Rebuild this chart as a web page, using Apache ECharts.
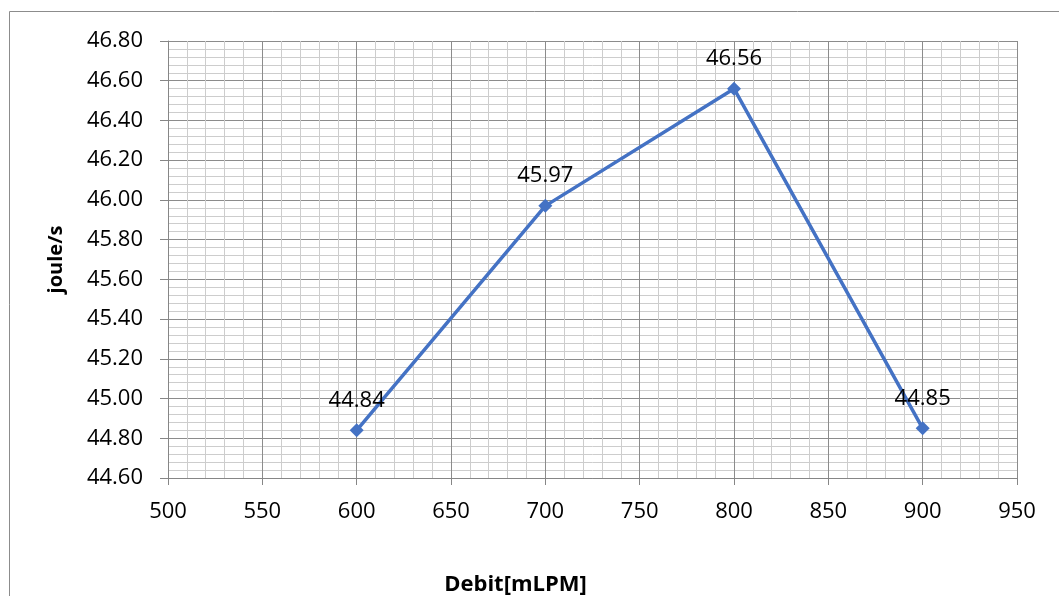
<!DOCTYPE html>
<html>
<head>
<meta charset="utf-8">
<script src="https://cdn.jsdelivr.net/npm/echarts@6/dist/echarts.min.js"></script>
<style>
  html, body { margin: 0; padding: 0; background: #ffffff; }
  #chart { width: 1059px; height: 596px; }
</style>
</head>
<body>
<div id="chart"></div>
<script>
// Flow rate (mLPM) against power (joule/s)
const debit = [600, 700, 800, 900];
const puissance = [44.84, 45.97, 46.56, 44.85];

const xMin = 500, xMax = 950, xStep = 50;
const yMin = 44.6, yMax = 46.8, yStep = 0.2;

const font = '"Open Sans", "Liberation Sans", sans-serif';
const chart = echarts.init(document.getElementById('chart'));

chart.setOption({
  animation: false,
  backgroundColor: '#ffffff',
  graphic: [{
    type: 'rect',
    shape: { x: 9.5, y: 11.5, width: 1060, height: 620 },
    style: { fill: 'none', stroke: '#8c8c8c', lineWidth: 1 },
    silent: true
  }],
  grid: { left: 168, right: 42, top: 41, bottom: 118, outerBoundsMode: 'none', containLabel: false },
  xAxis: {
    type: 'value',
    min: xMin, max: xMax, interval: xStep,
    name: 'Debit[mLPM]',
    nameLocation: 'middle',
    nameGap: 96,
    nameTextStyle: { fontFamily: font, fontSize: 22, fontWeight: 'bold', color: '#000', padding: [0, 154, 0, 0] },
    axisLine: { show: true, onZero: false, lineStyle: { color: '#868686', width: 1 } },
    axisTick: { show: true, length: 7, lineStyle: { color: '#868686' } },
    axisLabel: { fontFamily: font, fontSize: 22, color: '#000', margin: 23 },
    splitLine: { show: true, lineStyle: { color: '#8c8c8c', width: 1 } },
    minorTick: { show: false, splitNumber: 5 },
    minorSplitLine: { show: true, lineStyle: { color: '#cdcdcd', width: 1 } }
  },
  yAxis: {
    type: 'value',
    min: yMin, max: yMax, interval: yStep,
    name: 'joule/s',
    nameLocation: 'middle',
    nameGap: 102,
    nameTextStyle: { fontFamily: font, fontSize: 20, fontWeight: 'bold', color: '#000' },
    axisLine: { show: true, lineStyle: { color: '#868686', width: 1 } },
    axisTick: { show: true, length: 8, lineStyle: { color: '#868686' } },
    axisLabel: { fontFamily: font, fontSize: 22, color: '#000', margin: 25,
      formatter: v => v.toFixed(2) },
    splitLine: { show: true, lineStyle: { color: '#8c8c8c', width: 1 } },
    minorTick: { show: false, splitNumber: 5 },
    minorSplitLine: { show: true, lineStyle: { color: '#cdcdcd', width: 1 } }
  },
  series: [{
    type: 'line',
    data: debit.map((d, i) => [d, puissance[i]]),
    symbol: 'diamond',
    symbolSize: 14,
    lineStyle: { color: '#4472C4', width: 3.5 },
    itemStyle: { color: '#4472C4' },
    label: {
      show: true,
      position: 'top',
      distance: 12,
      fontFamily: font,
      fontSize: 22,
      color: '#000',
      formatter: p => p.value[1].toFixed(2)
    }
  }]
});
</script>
</body>
</html>
